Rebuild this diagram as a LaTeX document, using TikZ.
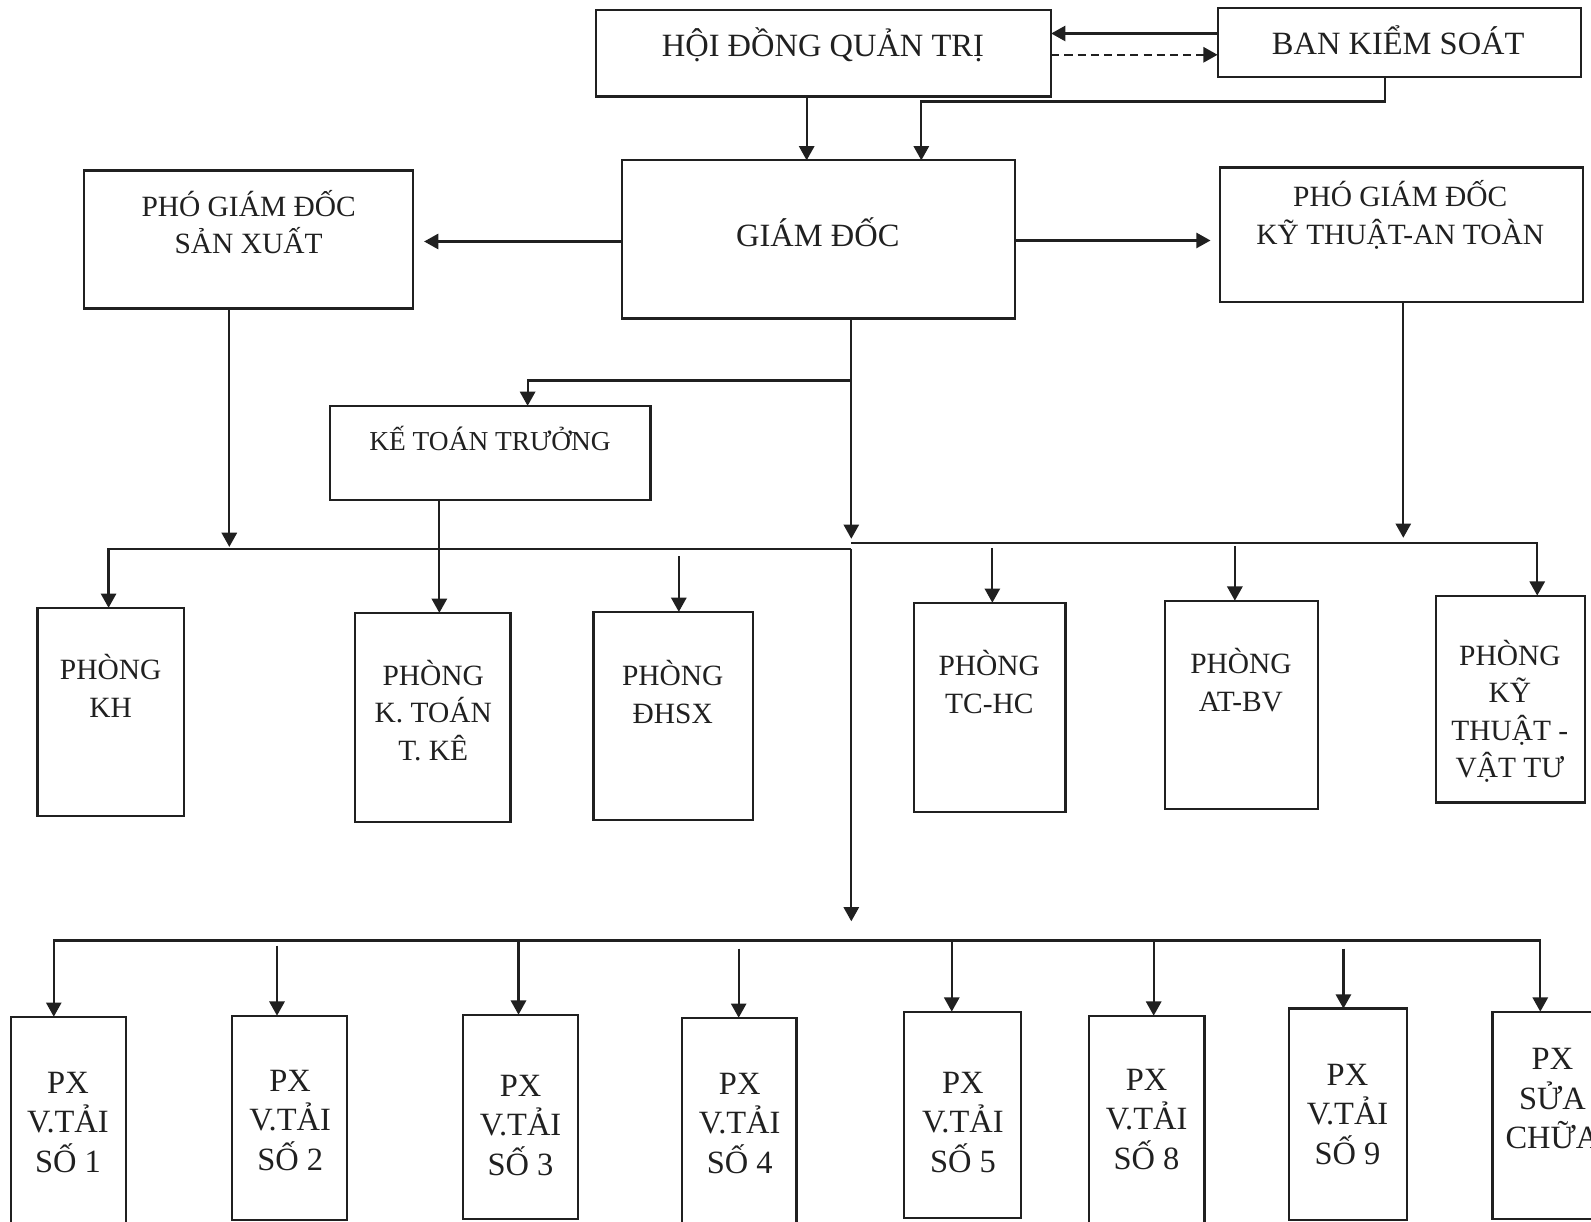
\documentclass[tikz,border=0pt]{standalone}
\usepackage{fontspec}
\setmainfont{Liberation Serif}
\usetikzlibrary{arrows.meta}
\definecolor{ink}{HTML}{202020}
\tikzset{
 box/.style={draw=ink, line width=2.2pt, inner sep=0pt, outer sep=0pt},
 arr/.style={draw=ink, line width=2.2pt, -{Triangle[length=14pt,width=15pt]}},
 arrb/.style={draw=ink, line width=2.2pt, {Triangle[length=14pt,width=15pt]}-{Triangle[length=14pt,width=15pt]}},
 lblA/.style={align=center, inner sep=0pt, text=ink, font=\fontsize{32}{39}\selectfont},
 lblB/.style={align=center, inner sep=0pt, text=ink, font=\fontsize{29}{37}\selectfont},
 lblC/.style={align=center, inner sep=0pt, text=ink, font=\fontsize{27}{35}\selectfont},
}
\newcommand\mybox[5]{\node[box, minimum width={(#4-#2)*1pt}, minimum height={(#5-#3)*1pt}] (#1) at ({(#2+#4)/2},{(#3+#5)/2}) {};}
\begin{document}
\begin{tikzpicture}[x=1pt,y=-1pt]
\useasboundingbox (0,0) rectangle (1568,1204);
\fill[white] (0,0) rectangle (1568,1204);
\clip (0,0) rectangle (1568,1204);

% boxes
\mybox{hdqt}{587}{10}{1036}{95}
\mybox{bks}{1200}{8}{1558}{76}
\mybox{gd}{613}{158}{1000}{314}
\mybox{pgdsx}{83}{168}{407}{304}
\mybox{pgdkt}{1202}{165}{1560}{298}
\mybox{ktt}{325}{400}{641}{493}
\mybox{kh}{37}{599}{181}{804}
\mybox{kttk}{350}{604}{503}{810}
\mybox{dhsx}{585}{603}{742}{808}
\mybox{tchc}{901}{594}{1050}{800}
\mybox{atbv}{1148}{592}{1299}{797}
\mybox{ktvt}{1415}{587}{1562}{791}
\mybox{px1}{11}{1002}{124}{1210}
\mybox{px2}{229}{1001}{342}{1202}
\mybox{px3}{456}{1000}{570}{1201}
\mybox{px4}{672}{1003}{785}{1210}
\mybox{px5}{891}{997}{1006}{1200}
\mybox{px8}{1073}{1001}{1187}{1210}
\mybox{px9}{1270}{994}{1387}{1202}
\mybox{pxsc}{1471}{997}{1590}{1201}

% texts
\node[lblA] (t-hdqt) at (811,44) {HỘI ĐỒNG QUẢN TRỊ};
\node[lblA] (t-bks) at (1378,40) {BAN KIỂM SOÁT};
\node[lblA] (t-gd) at (806,229) {GIÁM ĐỐC};
\node[lblB] (t-pgdsx) at (245,219) {PHÓ GIÁM ĐỐC\\SẢN XUẤT};
\node[lblB] (t-pgdkt) at (1380,212) {PHÓ GIÁM ĐỐC\\KỸ THUẬT-AN TOÀN};
\node[lblC] (t-ktt) at (483,432) {KẾ TOÁN TRƯỞNG};
\node[lblB] (t-kh) at (109,676) {PHÒNG\\KH};
\node[lblB] (t-kttk) at (427,700) {PHÒNG\\K. TOÁN\\T. KÊ};
\node[lblB] (t-dhsx) at (663,682) {PHÒNG\\ĐHSX};
\node[lblB] (t-tchc) at (975,672) {PHÒNG\\TC-HC};
\node[lblB] (t-atbv) at (1223,670) {PHÒNG\\AT-BV};
\node[lblB] (t-ktvt) at (1488,701) {PHÒNG\\KỸ\\THUẬT -\\VẬT TƯ};
\node[lblA] (t-px1) at (67,1106) {PX\\V.TẢI\\SỐ 1};
\node[lblA] (t-px2) at (286,1104) {PX\\V.TẢI\\SỐ 2};
\node[lblA] (t-px3) at (513,1109) {PX\\V.TẢI\\SỐ 3};
\node[lblA] (t-px4) at (729,1107) {PX\\V.TẢI\\SỐ 4};
\node[lblA] (t-px5) at (949,1106) {PX\\V.TẢI\\SỐ 5};
\node[lblA] (t-px8) at (1130,1103) {PX\\V.TẢI\\SỐ 8};
\node[lblA] (t-px9) at (1328,1098) {PX\\V.TẢI\\SỐ 9};
\node[lblA] (t-pxsc) at (1530,1083) {PX\\SỬA\\CHỮA};

% top connectors
\draw[arr] (bks.west |- 0,33) -- (hdqt.east |- 0,33);
\draw[arr, dash pattern=on 8pt off 5pt] (hdqt.east |- 0,54) -- (bks.west |- 0,54);
\draw[arr] (hdqt.south -| 795,0) -- (gd.north -| 795,0);
\draw[arr] (bks.south -| 1365,0) |- (908,100) -- (gd.north -| 908,0);
\draw[arr, shorten >=11pt] (gd.west |- 0,238) -- (pgdsx.east |- 0,238);
\draw[arr, shorten >=9pt] (gd.east |- 0,237) -- (pgdkt.west |- 0,237);

% director vertical and accountant
\coordinate (jmid) at (839,531);
\coordinate (jkt) at (839,375);
\coordinate (jl) at (839,541);
\coordinate (jr) at (839,535);
\coordinate (jbot) at (839,908);
\draw[arr] (gd.south -| 839,0) -- (jmid);
\draw[arr] (jkt) -| (ktt.north -| 520,0);
\draw[arr] (jl) -- (jbot);

% vice directors down
\coordinate (sxend) at (226,539);
\coordinate (ktend) at (1383,530);
\draw[arr] (pgdsx.south -| 226,0) -- (sxend);
\draw[arr] (pgdkt.south -| 1383,0) -- (ktend);

% left bus
\draw[arr] (jl) -| (kh.north -| 107,0);
\draw[arr] (ktt.south -| 433,0) -- (kttk.north -| 433,0);
\coordinate (sdh) at (669,548);
\draw[arr] (sdh) -- (dhsx.north -| 669,0);

% right bus
\draw[arr] (jr) -| (ktvt.north -| 1515,0);
\coordinate (stc) at (978,540);
\coordinate (sat) at (1217,538);
\draw[arr] (stc) -- (tchc.north -| 978,0);
\draw[arr] (sat) -- (atbv.north -| 1217,0);

% bottom bus
\draw[arrb] (px1.north -| 53,0) |- (1518,927) -- (pxsc.north -| 1518,0);
\coordinate (s2) at (273,932);
\coordinate (s3) at (511,927);
\coordinate (s4) at (728,935);
\coordinate (s5) at (938,927);
\coordinate (s8) at (1137,927);
\coordinate (s9) at (1324,935);
\draw[arr] (s2) -- (px2.north -| 273,0);
\draw[arr] (s3) -- (px3.north -| 511,0);
\draw[arr] (s4) -- (px4.north -| 728,0);
\draw[arr] (s5) -- (px5.north -| 938,0);
\draw[arr] (s8) -- (px8.north -| 1137,0);
\draw[arr] (s9) -- (px9.north -| 1324,0);
\end{tikzpicture}
\end{document}
